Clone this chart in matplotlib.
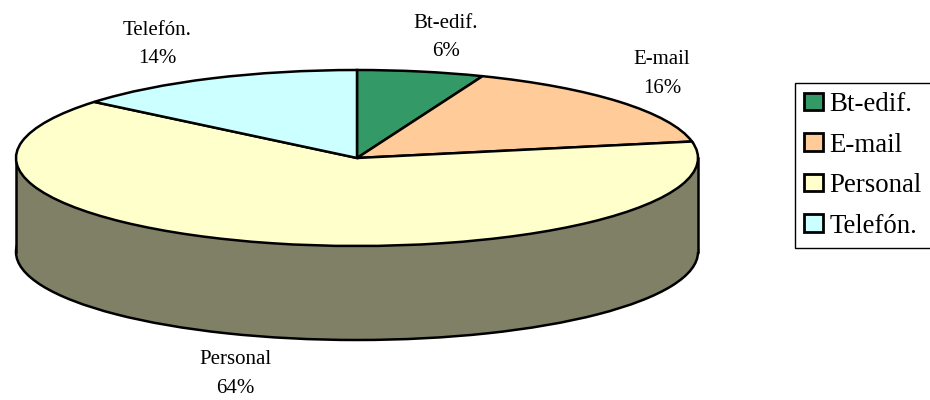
import matplotlib
matplotlib.use('Agg')
import matplotlib.pyplot as plt
from matplotlib.patches import Rectangle, Patch

plt.rcParams['font.family'] = ['Liberation Serif', 'DejaVu Serif']

labels = ['Bt-edif.', 'E-mail', 'Personal', 'Telefón.']
values = [6, 16, 64, 14]
colors = ['#339966', '#FFCC99', '#FFFFCC', '#CCFFFF']
side_color = '#808066'

W, H = 930, 400
cx, cy, rx, ry = 357, 158, 341, 88
depth = 94
lw = 1.8

fig = plt.figure(figsize=(W / 100, H / 100), dpi=100)
# axes in pixel coordinates scaled so the pie is an ellipse
ax = fig.add_axes([0, 0, 1, 1])
ax.axis('off')

# side of the cylinder: lower ellipse, then a band up to the top face
ax.pie([1], colors=[side_color], startangle=90, radius=1, center=(0, -depth / ry),
       wedgeprops={'edgecolor': 'black', 'linewidth': lw})
ax.add_patch(Rectangle((-1, -depth / ry), 2, depth / ry, facecolor=side_color,
                       edgecolor='none', zorder=2))
ax.plot([-1, -1], [0, -depth / ry], color='black', lw=lw, zorder=3)
ax.plot([1, 1], [0, -depth / ry], color='black', lw=lw, zorder=3)

# top face
wedges, _ = ax.pie(values, colors=colors, startangle=90, counterclock=False, radius=1,
                   wedgeprops={'edgecolor': 'black', 'linewidth': lw, 'zorder': 4})

ax.set_aspect('auto')
ax.set_xlim(-cx / rx, (W - cx) / rx)
ax.set_ylim(-(H - cy) / ry, cy / ry)

# value labels, placed in figure pixels
label_pos = [(446, 37.5), (662, 74), (235, 374), (157, 44.5)]
for name, val, (px, py) in zip(labels, values, label_pos):
    fig.text(px / W, 1 - py / H, f'{name}\n{val}%', ha='center', va='center',
             fontsize=15, linespacing=1.69, color='black')

# legend
handles = [Patch(facecolor=c, edgecolor='black', linewidth=2, label=n)
           for c, n in zip(colors, labels)]
leg = fig.legend(handles=handles, loc='upper left', bbox_to_anchor=(795 / W, 1 - 83 / H),
                 fontsize=19.4, frameon=True, fancybox=False, edgecolor='black',
                 framealpha=1, borderpad=0.33, labelspacing=0.58, handlelength=0.7,
                 handleheight=0.63, handletextpad=0.25, borderaxespad=0)
leg.get_frame().set_linewidth(1)

fig.savefig('out.png', dpi=100)
